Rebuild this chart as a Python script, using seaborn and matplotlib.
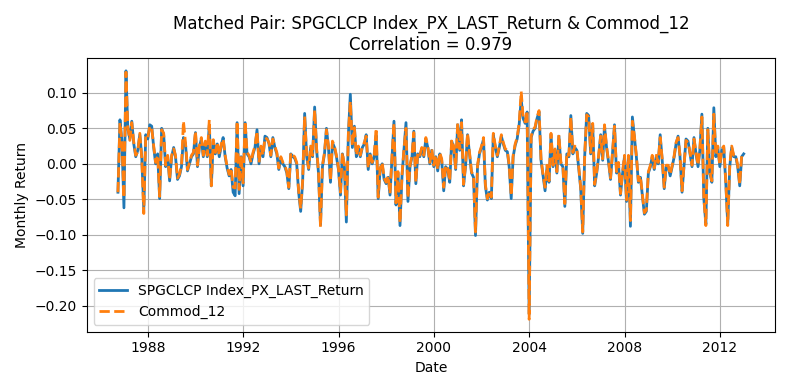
import matplotlib
matplotlib.use("Agg")
import matplotlib.pyplot as plt
import numpy as np
import pandas as pd
import seaborn as sns

# monthly returns, Sep 1986 .. Dec 2012
start_month = "1986-09-30"

spgclcp_return = [
    -0.040, 0.062, 0.032, -0.062, 0.131, 0.050, 0.035, 0.060, 0.028, 0.010, 0.019, 0.041,
    0.010, -0.065, 0.041, 0.035, 0.055, 0.053, 0.023, 0.000, 0.014, -0.049, 0.050, 0.041,
    -0.004, 0.010, -0.024, 0.010, 0.023, 0.010, -0.022, -0.017, -0.004, 0.037, 0.028, -0.010,
    0.000, 0.010, 0.014, 0.044, -0.004, 0.023, 0.035, 0.010, 0.030, 0.010, 0.055, -0.031,
    0.032, 0.014, 0.028, 0.010, 0.026, 0.037, 0.010, -0.006, -0.017, -0.008, -0.040, -0.045,
    0.058, -0.042, 0.010, -0.031, 0.058, 0.014, 0.010, 0.000, 0.014, 0.023, 0.048, 0.000,
    0.023, 0.010, 0.039, 0.037, 0.028, 0.010, 0.037, 0.023, 0.014, -0.008, 0.008, 0.000,
    -0.004, -0.013, -0.035, 0.014, 0.010, 0.008, 0.000, -0.040, -0.067, -0.026, 0.071, 0.010,
    -0.008, 0.023, 0.010, 0.080, 0.019, -0.013, -0.086, -0.004, 0.014, 0.050, 0.023, -0.026,
    0.030, 0.023, 0.010, -0.008, -0.044, 0.014, -0.004, -0.082, 0.041, 0.098, 0.023, 0.053,
    0.010, 0.023, 0.010, 0.023, 0.028, 0.041, -0.008, 0.014, 0.000, 0.010, 0.040, -0.049,
    -0.008, 0.000, -0.022, -0.028, -0.019, -0.044, 0.010, 0.060, -0.058, -0.013, -0.087, -0.017,
    0.019, 0.058, -0.053, -0.004, 0.010, 0.046, -0.028, 0.014, 0.010, 0.021, 0.010, 0.035,
    0.023, 0.000, 0.019, -0.004, 0.010, -0.010, 0.014, 0.005, -0.038, -0.004, -0.008, -0.026,
    0.032, 0.023, -0.008, 0.055, 0.019, 0.062, -0.031, -0.004, 0.041, 0.014, -0.013, -0.019,
    -0.101, -0.004, 0.014, 0.023, 0.035, -0.031, -0.051, -0.040, -0.049, 0.041, 0.023, 0.010,
    0.023, 0.039, 0.028, 0.019, 0.017, -0.004, -0.049, 0.010, 0.026, 0.035, 0.055, 0.091,
    0.064, 0.057, 0.073, -0.212, 0.037, 0.046, 0.050, 0.064, 0.073, 0.005, -0.017, -0.038,
    -0.004, -0.026, 0.041, -0.004, 0.019, -0.013, 0.039, 0.000, -0.004, -0.060, 0.014, 0.010,
    0.068, 0.014, 0.023, 0.019, -0.008, -0.035, -0.098, 0.010, 0.071, 0.068, 0.014, 0.055,
    -0.031, -0.013, 0.010, 0.041, 0.005, 0.053, 0.023, 0.003, -0.022, 0.014, 0.055, -0.013,
    0.000, -0.044, -0.015, 0.010, -0.053, 0.010, -0.088, 0.066, 0.037, 0.010, -0.026, -0.019,
    -0.044, -0.071, -0.067, -0.013, -0.004, 0.010, -0.008, 0.010, 0.000, 0.041, 0.005, -0.035,
    -0.004, -0.004, -0.017, -0.004, 0.010, 0.028, 0.039, 0.010, -0.040, -0.004, 0.035, 0.032,
    0.014, -0.004, 0.037, 0.014, -0.004, 0.019, 0.070, -0.049, -0.085, 0.050, -0.013, -0.026,
    0.079, 0.010, 0.023, -0.004, 0.019, 0.023, -0.026, -0.085, -0.004, 0.023, 0.010, 0.010,
    -0.004, -0.031, 0.010, 0.014,
]

commod_12 = [
    -0.040, 0.058, 0.030, -0.048, 0.129, 0.052, 0.033, 0.058, 0.030, 0.012, 0.017, 0.043,
    0.008, -0.070, 0.040, 0.037, 0.053, 0.051, 0.025, 0.002, 0.012, -0.046, 0.048, 0.043,
    -0.002, 0.012, -0.022, 0.012, 0.021, 0.012, -0.020, -0.015, -0.002, 0.060, 0.030, -0.008,
    0.002, 0.012, 0.016, 0.046, -0.002, 0.025, 0.037, 0.012, 0.032, 0.012, 0.062, -0.031,
    0.034, 0.016, 0.030, 0.012, 0.028, 0.035, 0.012, -0.004, -0.015, -0.006, -0.033, -0.034,
    0.060, -0.036, 0.012, -0.027, 0.060, 0.016, 0.012, 0.002, 0.016, 0.025, 0.046, 0.002,
    0.025, 0.012, 0.037, 0.035, 0.030, 0.012, 0.035, 0.025, 0.016, -0.006, 0.010, 0.002,
    -0.002, -0.011, -0.033, 0.016, 0.012, 0.010, 0.002, -0.038, -0.063, -0.024, 0.067, 0.012,
    -0.006, 0.025, 0.012, 0.076, 0.021, -0.011, -0.089, -0.002, 0.016, 0.048, 0.025, -0.024,
    0.032, 0.025, 0.012, -0.006, -0.040, 0.016, -0.002, -0.072, 0.043, 0.088, 0.025, 0.051,
    0.012, 0.025, 0.012, 0.025, 0.030, 0.039, -0.006, 0.016, 0.002, 0.012, 0.050, -0.047,
    -0.006, 0.002, -0.020, -0.026, -0.017, -0.042, 0.012, 0.057, -0.055, -0.011, -0.083, -0.015,
    0.021, 0.050, -0.048, -0.002, 0.012, 0.044, -0.026, 0.016, 0.012, 0.023, 0.012, 0.037,
    0.025, 0.002, 0.021, -0.002, 0.012, -0.008, 0.016, 0.007, -0.033, -0.002, -0.006, -0.024,
    0.034, 0.025, -0.006, 0.057, 0.021, 0.058, -0.029, -0.002, 0.043, 0.016, -0.011, -0.017,
    -0.096, -0.002, 0.016, 0.025, 0.037, -0.029, -0.049, -0.038, -0.047, 0.043, 0.025, 0.012,
    0.025, 0.041, 0.030, 0.021, 0.019, -0.002, -0.045, 0.012, 0.028, 0.037, 0.057, 0.102,
    0.066, 0.059, 0.075, -0.219, 0.039, 0.048, 0.052, 0.066, 0.075, 0.007, -0.015, -0.033,
    -0.002, -0.024, 0.043, -0.002, 0.021, -0.011, 0.041, 0.002, -0.002, -0.056, 0.016, 0.012,
    0.066, 0.016, 0.025, 0.021, -0.006, -0.033, -0.096, 0.012, 0.069, 0.066, 0.016, 0.057,
    -0.029, -0.011, 0.012, 0.039, 0.007, 0.055, 0.025, 0.005, -0.020, 0.016, 0.053, -0.011,
    0.002, -0.042, -0.013, 0.012, -0.051, 0.012, -0.080, 0.060, 0.039, 0.012, -0.024, -0.017,
    -0.042, -0.069, -0.065, -0.011, -0.002, 0.012, -0.006, 0.012, 0.002, 0.037, 0.007, -0.033,
    -0.002, -0.002, -0.015, -0.002, 0.012, 0.030, 0.037, 0.012, -0.038, -0.002, 0.033, 0.030,
    0.016, -0.002, 0.035, 0.016, -0.002, 0.021, 0.066, -0.047, -0.087, 0.048, -0.011, -0.024,
    0.070, 0.012, 0.025, -0.002, 0.021, 0.025, -0.024, -0.087, -0.002, 0.025, 0.012, 0.012,
    -0.002, -0.029, 0.012, 0.012,
]

series_a = "SPGCLCP Index_PX_LAST_Return"
series_b = "Commod_12"
correlation = 0.979

dates = pd.date_range(start_month, periods=len(spgclcp_return), freq="ME")
df = pd.DataFrame({"Date": dates, series_a: spgclcp_return, series_b: commod_12})

fig, ax = plt.subplots(figsize=(7.9, 3.9), dpi=100)
sns.lineplot(data=df, x="Date", y=series_a, ax=ax, color="#1f77b4", linewidth=2, label=series_a)
sns.lineplot(data=df, x="Date", y=series_b, ax=ax, color="#ff7f0e", linewidth=2,
             linestyle="--", label=series_b)
ax.set_title(f"Matched Pair: {series_a} & {series_b}\nCorrelation = {correlation:.3f}")
ax.set_xlabel("Date")
ax.set_ylabel("Monthly Return")
ax.grid(True)
ax.legend(loc="lower left")
plt.tight_layout()
fig.savefig("out.png", dpi=100)
